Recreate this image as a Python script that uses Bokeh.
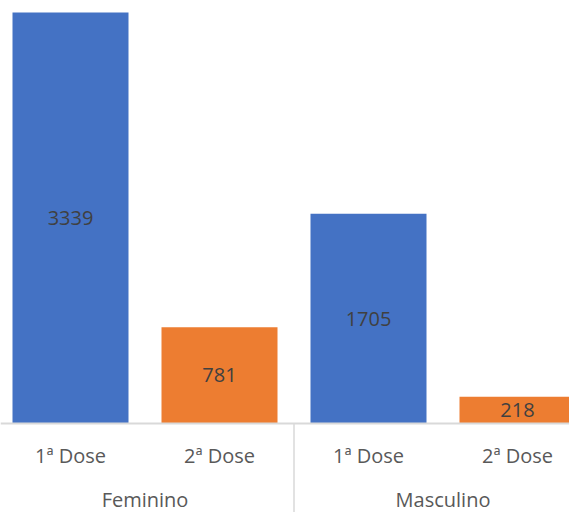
import numpy as np
from bokeh.plotting import figure
from bokeh.models import Range1d, Span, ColumnDataSource
from bokeh.core.properties import value
from bokeh.embed import file_html
from bokeh.resources import INLINE

# ---- data ----
groups = ["Feminino", "Masculino"]
doses = ["1ª Dose", "2ª Dose"]
feminino = [3339, 781]
masculino = [1705, 218]
dose_colors = ["#4472C4", "#ED7D31"]

values = feminino + masculino
labels = doses * len(groups)
colors = dose_colors * len(groups)
idx = np.arange(len(values))
group_centers = [np.mean(idx[i * len(doses):(i + 1) * len(doses)]) for i in range(len(groups))]
separators = [len(doses) * (i + 1) - 0.5 for i in range(len(groups) - 1)]

W, H = 569, 512
slot_px = 149.0
first_center_px = 70.0
base_px_from_bottom = 89.0
k = 411.0 / max(values)  # pixels per unit

x_start = -first_center_px / slot_px
x_end = (W - first_center_px) / slot_px
y_min = -base_px_from_bottom / k
y_max = (H - base_px_from_bottom) / k

p = figure(width=W, height=H, output_backend="svg", toolbar_location=None,
           x_range=Range1d(x_start, x_end), y_range=Range1d(y_min, y_max),
           x_axis_type=None, y_axis_type=None, min_border=0)
p.grid.visible = False
p.outline_line_color = None
p.background_fill_color = "white"
p.border_fill_color = "white"

src = ColumnDataSource(dict(x=idx, top=values, color=colors,
                            mid=[v / 2 for v in values],
                            vtxt=[str(v) for v in values],
                            lab=labels, zero=[0] * len(values)))

p.vbar(x="x", top="top", bottom=0, width=116 / slot_px, color="color", line_color=None, source=src)

# value labels
p.text(x="x", y="mid", text="vtxt", source=src, text_align="center", text_baseline="middle",
       text_font=value("Open Sans"), text_font_size="20px", text_color="#404040", y_offset=0)

# baseline
p.add_layout(Span(location=0, dimension="width", line_color="#d9d9d9", line_width=2))

# group separators
p.segment(x0=separators, y0=[0] * len(separators), x1=separators, y1=[y_min] * len(separators),
          line_color="#d9d9d9", line_width=1.5)

# category labels
p.text(x="x", y="zero", text="lab", source=src, text_align="center", text_baseline="middle",
       text_font=value("Open Sans"), text_font_size="20px", text_color="#595959", y_offset=32)
p.text(x=group_centers, y=[0] * len(groups), text=groups, text_align="center", text_baseline="middle",
       text_font=value("Open Sans"), text_font_size="20px", text_color="#595959", y_offset=76)

open("out.html", "w").write(file_html(p, INLINE))
